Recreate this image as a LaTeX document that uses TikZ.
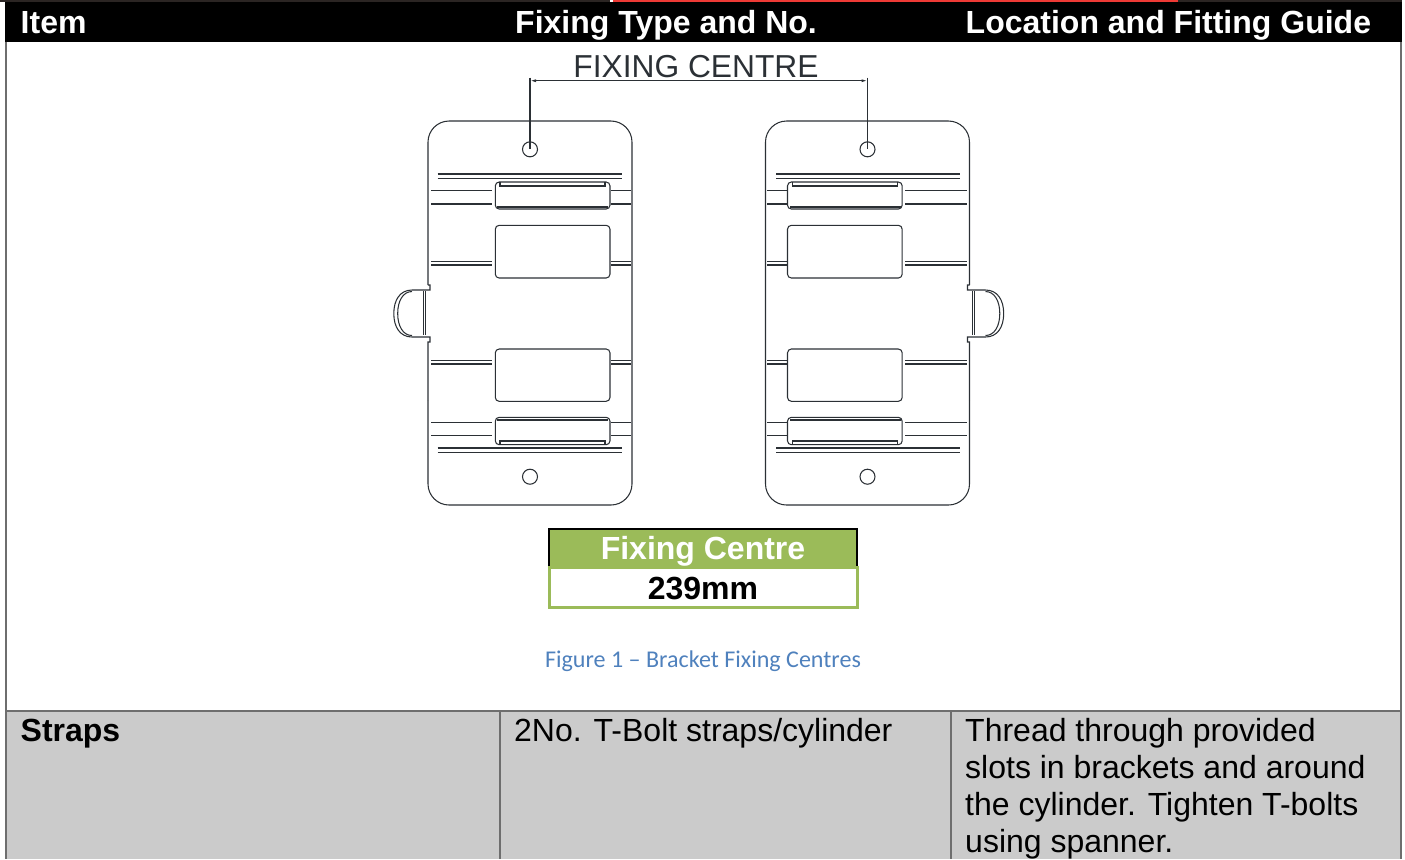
\documentclass[tikz,border=0pt]{standalone}
\usepackage{fontspec}
\usetikzlibrary{arrows.meta}
\setmainfont{Liberation Sans}
\newfontfamily\capfont{Carlito}
\definecolor{barcol}{HTML}{2B2523}
\definecolor{rulecol}{HTML}{6E6E6E}
\definecolor{rowcol}{HTML}{CBCBCB}
\definecolor{inkcol}{HTML}{2B3035}
\definecolor{greencol}{HTML}{9BBB59}
\definecolor{capcol}{HTML}{4F81BD}
\definecolor{topred}{HTML}{EE3A35}
\tikzset{
  tabletext/.style={inner sep=0pt,anchor=base west,font=\fontsize{9.1}{10.5}\selectfont},
  headtext/.style={tabletext,text=white,font=\fontsize{9.1}{10.5}\selectfont\bfseries},
  midtext/.style={tabletext,anchor=base,font=\fontsize{9.1}{10.5}\selectfont\bfseries},
  ink/.style={draw=inkcol,line width=0.3pt},
}
\begin{document}
\begin{tikzpicture}[x=0.01cm,y=-0.01cm]
\useasboundingbox (0,0) rectangle (1405,859);
% table frame
\fill[barcol](0,0) rectangle (1402,2);
\fill[white](610,0) rectangle (613,2);
\fill[topred](613,0) rectangle (1178,2);
\fill[black](5,2) rectangle (1401.5,41.5);
\fill[rowcol](6,711) rectangle (1401,859);
\draw[rulecol,line width=0.55pt](6,41.5)--(6,859);
\draw[rulecol,line width=0.55pt](1401,41.5)--(1401,859);
\draw[rulecol,line width=0.55pt](6,711)--(1401,711);
\draw[rulecol,line width=0.55pt](500,711)--(500,859);
\draw[rulecol,line width=0.55pt](951,711)--(951,859);
\node[headtext] (itemhead) at (20,33) {Item};
\node[headtext] (typehead) at (514.5,33) {Fixing Type and No.};
\node[headtext] (guidehead) at (965,33) {Location and Fitting Guide};
% both brackets, the second one mirrored
\foreach \cx/\sx in {530/1,867.5/-1}{
\begin{scope}[shift={(\cx,0)},xscale=\sx]
\draw[ink,rounded corners=6pt](-102,285)--(-102,121)--(102,121)--(102,505)--(-102,505)--(-102,400);
\draw[ink](-102,400)--(-102,342)--(-100,342)--(-100,337)--(-118,337)
  .. controls (-130,337) and (-136.2,327) .. (-136.2,313.5)
  .. controls (-136.2,300) and (-130,290) .. (-118,290)
  --(-100,290)--(-100,285)--(-102,285);
\draw[ink](-118,291.5) .. controls (-127,291.5) and (-132.3,301) .. (-132.3,313.5)
  .. controls (-132.3,326) and (-127,335.5) .. (-118,335.5);
\draw[ink](-106.7,291)--(-106.7,335);
\draw[ink](-104.7,291)--(-104.7,335);
\draw[ink](0,149.3) circle (7.5);
\draw[ink](0,476.7) circle (7.5);
\foreach \ly in {174,178.7,448,452.7}{
  \draw[ink](-92.3,\ly)--(92,\ly);
}
\foreach \ly in {190.7,204,261.7,265,360.7,364,422.3,435.7}{
  \draw[ink](-99,\ly)--(-37.7,\ly);
  \draw[ink](81,\ly)--(101,\ly);
}
\draw[ink,rounded corners=1.1pt](-34.7,182) rectangle (80,209);
\draw[ink,rounded corners=1.1pt](-34.7,225.3) rectangle (80,278);
\draw[ink,rounded corners=1.1pt](-34.7,349) rectangle (80,401.3);
\draw[ink,rounded corners=1.1pt](-34.7,417.3) rectangle (80,444.7);
% slot inner edges
\draw[ink](-30,182)--(-30,186)--(75,186)--(75,182);
\draw[ink](-33,207)--(78,207);
\draw[ink](-33,420)--(78,420);
\draw[ink](-30,444.7)--(-30,441)--(75,441)--(75,444.7);
\end{scope}
}
% dimension
\coordinate (holeleft) at (530,149.3);
\coordinate (holeright) at (867.5,149.3);
\coordinate (dimleft) at (530,80.7);
\coordinate (dimright) at (867.5,80.7);
\draw[ink]([yshift=0.03cm]dimleft)--(holeleft);
\draw[ink]([yshift=0.03cm]dimright)--(holeright);
\draw[ink,{Latex[length=0.06cm,width=0.03cm]}-{Latex[length=0.06cm,width=0.03cm]}](dimleft)--(dimright);
\node[tabletext,anchor=base,text=inkcol,font=\fontsize{9.03}{10.5}\selectfont] (dimtext) at (696,77.5) {FIXING CENTRE};
% fixing centre box
\fill[greencol](549,529) rectangle (857,567);
\draw[black,line width=0.55pt](549,567)--(549,529)--(857,529)--(857,567);
\draw[greencol,line width=0.8pt,fill=white](549.5,567.5) rectangle (857.5,607.5);
\node[midtext,text=white] (boxhead) at (703,559) {Fixing Centre};
\node[midtext] (boxvalue) at (703,599) {239mm};
\node[inner sep=0pt,anchor=base,text=capcol,font=\capfont\fontsize{6.84}{8}\selectfont] (figcap) at (703,667) {Figure 1 – Bracket Fixing Centres};
% last row
\node[tabletext,font=\fontsize{9.1}{10.5}\selectfont\bfseries] (strapname) at (20,741) {Straps};
\node[tabletext] (strapfix) at (513.5,741) {2No. T-Bolt straps/cylinder};
\node[tabletext] (guide1) at (964.5,741) {Thread through provided};
\node[tabletext] (guide2) at (964.5,778) {slots in brackets and around};
\node[tabletext] (guide3) at (964.5,815) {the cylinder. Tighten T-bolts};
\node[tabletext] (guide4) at (964.5,852) {using spanner.};
\end{tikzpicture}
\end{document}
